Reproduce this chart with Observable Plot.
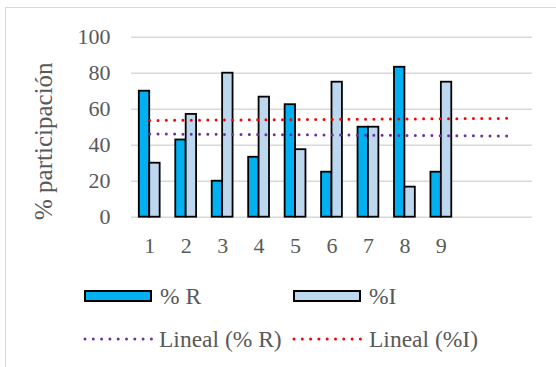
<!DOCTYPE html>
<html>
<head>
<meta charset="utf-8">
<script src="https://cdn.jsdelivr.net/npm/d3@7"></script>
<script src="https://cdn.jsdelivr.net/npm/@observablehq/plot@0.6"></script>
<style>
  html, body { margin: 0; padding: 0; background: #fff; width: 556px; height: 367px; overflow: hidden; }
  #frame { position: absolute; left: 5px; top: 7px; width: 700px; height: 500px; border: 1.5px solid #d9d9d9; box-sizing: border-box; }
  #chart { position: absolute; left: 0; top: 0; }
  .leg { position: absolute; font-family: "Liberation Serif", "Times New Roman", serif; font-size: 23.5px; color: #595959; line-height: 24px; white-space: nowrap; }
  .sw { position: absolute; box-sizing: border-box; border: 2px solid #000; }
  svg.ln { position: absolute; overflow: visible; }
</style>
</head>
<body>
<div id="frame"></div>
<div id="chart"></div>
<div id="legend"></div>
<script>
// ---- data ----
const categories = [1, 2, 3, 4, 5, 6, 7, 8, 9];
const pctR = [70, 42.9, 20, 33.3, 62.5, 25, 50, 83.3, 25];
const pctI = [30, 57.1, 80, 66.7, 37.5, 75, 50, 16.7, 75];
const yTicks = [0, 20, 40, 60, 80, 100];
const seriesNames = ["% R", "%I"];
const trendNames = ["Lineal (% R)", "Lineal (%I)"];
const forecastForward = 2; // trend extended 2 periods
const colR = "#00b0f0", colI = "#bdd7ee";
const colTrendR = "#7030a0", colTrendI = "#ff0000";

// ---- derived tables ----
const barW = 1 / 3.5;
const bars = [];
categories.forEach((c, i) => {
  bars.push({cat: c, s: seriesNames[0], v: pctR[i], x1: c - barW, x2: c});
  bars.push({cat: c, s: seriesNames[1], v: pctI[i], x1: c, x2: c + barW});
});
function regress(xs, ys) {
  const n = xs.length, mx = d3.mean(xs), my = d3.mean(ys);
  let sxy = 0, sxx = 0;
  for (let i = 0; i < n; i++) { sxy += (xs[i] - mx) * (ys[i] - my); sxx += (xs[i] - mx) ** 2; }
  const b = sxy / sxx, a = my - b * mx;
  return x => a + b * x;
}
const xEnd = categories[categories.length - 1] + forecastForward;
const fR = regress(categories, pctR), fI = regress(categories, pctI);
const trend = [
  {s: trendNames[0], x: categories[0], y: fR(categories[0])},
  {s: trendNames[0], x: xEnd, y: fR(xEnd)},
  {s: trendNames[1], x: categories[0], y: fI(categories[0])},
  {s: trendNames[1], x: xEnd, y: fI(xEnd)}
];

const W = 556, H = 262;
const chart = Plot.plot({
  width: W, height: H,
  marginLeft: 131, marginRight: 24, marginTop: 36.7, marginBottom: H - 216.7,
  style: {fontFamily: "'Liberation Serif', 'Times New Roman', serif", fontSize: "22px", color: "#595959", background: "transparent", overflow: "visible"},
  x: {type: "linear", domain: [0.5, xEnd + 0.5]},
  y: {domain: [0, 100]},
  marks: [
    Plot.ruleY(yTicks, {stroke: "#d9d9d9", strokeWidth: 1.5}),
    Plot.rectY(bars, {x1: "x1", x2: "x2", y: "v", fill: d => d.s === seriesNames[0] ? colR : colI, stroke: "#000", strokeWidth: 1.8}),
    Plot.line(trend, {x: "x", y: "y", z: "s", stroke: d => d.s === trendNames[0] ? colTrendR : colTrendI, strokeWidth: 3, strokeDasharray: "0 8.3", strokeLinecap: "round"}),
    Plot.axisX(categories, {tickSize: 0, tickPadding: 20.5, fontSize: 22, fill: "#595959", label: null, tickFormat: d => String(d)}),
    Plot.axisY(yTicks, {tickSize: 0, tickPadding: 21, fontSize: 22, fill: "#595959", label: null}),
    Plot.text(["% participación"], {frameAnchor: "left", rotate: -90, dx: -88, dy: 14, fontSize: 25, fill: "#595959", textAnchor: "middle"})
  ]
});
document.getElementById("chart").appendChild(chart);

// ---- legend ----
const leg = document.getElementById("legend");
function addText(txt, x, cy) {
  const d = document.createElement("div");
  d.className = "leg"; d.textContent = txt;
  d.style.left = x + "px"; d.style.top = (cy - 12.5) + "px";
  leg.appendChild(d);
}
function addSwatch(color, x, y) {
  const d = document.createElement("div");
  d.className = "sw"; d.style.background = color;
  d.style.left = x + "px"; d.style.top = y + "px"; d.style.width = "68px"; d.style.height = "12px";
  leg.appendChild(d);
}
function addDots(color, x, y) {
  const s = d3.create("svg").attr("class", "ln").attr("width", 70).attr("height", 6)
    .style("left", x + "px").style("top", (y - 3) + "px");
  s.append("line").attr("x1", 1).attr("x2", 68).attr("y1", 3).attr("y2", 3)
    .attr("stroke", color).attr("stroke-width", 3).attr("stroke-dasharray", "0 8.3").attr("stroke-linecap", "round");
  leg.appendChild(s.node());
}
addSwatch(colR, 84, 290); addText(seriesNames[0], 160, 296);
addSwatch(colI, 293, 290); addText(seriesNames[1], 369, 296);
addDots(colTrendR, 84, 339); addText(trendNames[0], 159, 339);
addDots(colTrendI, 293, 339); addText(trendNames[1], 369, 339);
</script>
</body>
</html>
